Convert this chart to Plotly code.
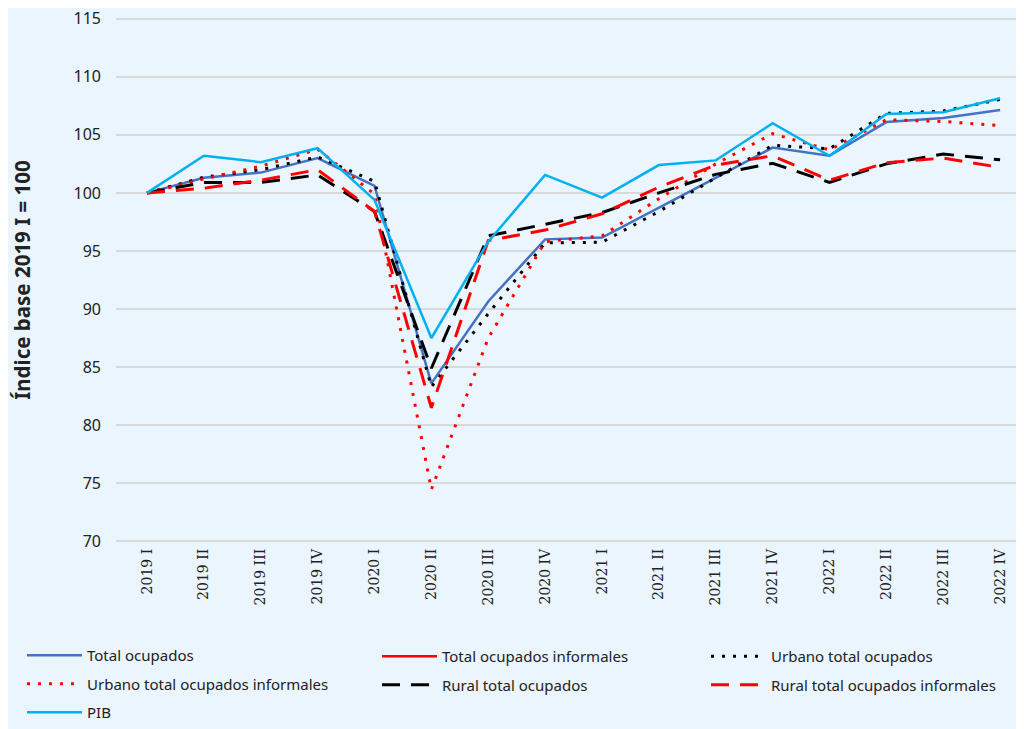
import plotly.graph_objects as go

# Trimestres
quarters = ["2019 I", "2019 II", "2019 III", "2019 IV",
            "2020 I", "2020 II", "2020 III", "2020 IV",
            "2021 I", "2021 II", "2021 III", "2021 IV",
            "2022 I", "2022 II", "2022 III", "2022 IV"]

# Índices (base 2019 I = 100)
total_ocupados = [100, 101.3, 101.75, 103.0, 100.6, 83.6, 90.65, 96.0,
                  96.15, 98.7, 101.3, 103.9, 103.2, 106.1, 106.45, 107.15]
total_informales = [None] * 16  # no aparece en el gráfico, solo en la leyenda
urbano_total = [100, 101.35, 102.0, 103.1, 101.0, 83.3, 89.6, 95.7,
                95.75, 98.4, 101.3, 104.1, 103.8, 106.85, 107.05, 108.05]
urbano_informales = [100, 101.2, 102.3, 103.75, 99.9, 74.45, 87.5, 95.8,
                     96.3, 99.5, 102.5, 105.1, 103.7, 106.3, 106.15, 105.8]
rural_total = [100, 100.9, 100.9, 101.55, 98.4, 84.9, 96.3, 97.3,
               98.3, 100.0, 101.6, 102.55, 100.9, 102.5, 103.35, 102.85]
rural_informales = [100, 100.4, 101.1, 102.0, 98.4, 81.5, 95.9, 96.8,
                    98.2, 100.5, 102.4, 103.2, 101.1, 102.6, 103.0, 102.2]
pib = [100, 103.2, 102.65, 103.85, 99.4, 87.5, 95.8, 101.55,
       99.6, 102.4, 102.8, 106.0, 103.2, 106.8, 106.95, 108.15]

# name, values, colour, dash, width, legend column
series = [
    ("Total ocupados", total_ocupados, "#4472C4", "solid", 2.5, "legend"),
    ("Total ocupados informales", total_informales, "#FF0000", "solid", 2.5, "legend2"),
    ("Urbano total ocupados", urbano_total, "#000000", "3px,8px", 3, "legend3"),
    ("Urbano total ocupados informales", urbano_informales, "#FF0000", "3px,8px", 3, "legend"),
    ("Rural total ocupados", rural_total, "#000000", "18px,11px", 3, "legend2"),
    ("Rural total ocupados informales", rural_informales, "#FF0000", "18px,11px", 3, "legend3"),
    ("PIB", pib, "#00B0F0", "solid", 2.5, "legend"),
]

fig = go.Figure()
for name, vals, color, dash, width, leg in series:
    fig.add_trace(go.Scatter(
        x=quarters, y=vals, name=name, mode="lines",
        line=dict(color=color, dash=dash, width=width),
        legend=leg, legendgroup=name,
    ))

bg = "#EBF5FD"
# the page body adds 8px around the figure
W, H = 1016, 721
L, T, B = 108, 9, 185
plot_w = W - L
plot_h = H - T - B


def legend_box(xpx):
    return dict(
        orientation="v", x=(xpx - L) / plot_w, xanchor="left",
        y=(H - B - 632) / plot_h, yanchor="top",
        font=dict(size=15, color="#222222"),
        tracegroupgap=6, itemwidth=55,
        bgcolor="rgba(0,0,0,0)",
    )


fig.update_layout(
    width=W, height=H,
    paper_bgcolor=bg, plot_bgcolor=bg,
    margin=dict(l=L, r=0, t=T, b=B),
    font=dict(family="Noto Sans", size=16, color="#222222"),
    showlegend=True,
    legend=legend_box(14),
    legend2=legend_box(369),
    legend3=legend_box(698),
)
fig.update_xaxes(
    type="category", range=[-0.545, 15.42],
    tickangle=-90, showgrid=False, showline=False, ticks="",
    ticklabelstandoff=2,
    tickfont=dict(family="DejaVu Serif", size=14, color="#222222"),
)
fig.update_yaxes(
    range=[69.85, 115.15], tickvals=[70, 75, 80, 85, 90, 95, 100, 105, 110, 115],
    showgrid=True, gridcolor="#D9D9D9", gridwidth=2, ticklabeloverflow="allow",
    zeroline=False, ticks="", ticklabelstandoff=14,
    title=dict(text="<b>Índice base 2019 I = 100</b>", font=dict(size=20.5), standoff=44),
)

fig.write_html("out.html")
